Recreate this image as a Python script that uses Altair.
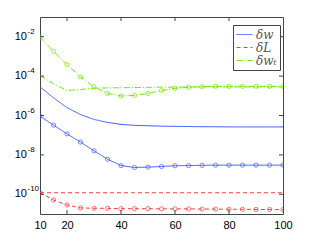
import altair as alt
import pandas as pd

x_vals = [10, 15, 20, 25, 30, 35, 40, 45, 50, 55, 60, 65, 70, 75, 80, 85, 90, 95, 100]

# legend series (no markers)
dw = [2.82e-5, 7.94e-6, 2.51e-6, 1.12e-6, 6.31e-7, 4.47e-7, 3.55e-7, 3.16e-7, 3.02e-7, 2.88e-7,
      2.82e-7, 2.75e-7, 2.69e-7, 2.69e-7, 2.63e-7, 2.63e-7, 2.63e-7, 2.63e-7, 2.63e-7]
dL = [1.2e-10] * 19
dwt = [1.10e-4, 4.07e-5, 1.86e-5, 2.09e-5, 2.45e-5, 2.51e-5, 2.57e-5, 2.63e-5, 2.69e-5, 2.75e-5,
       2.75e-5, 2.82e-5, 2.82e-5, 2.82e-5, 2.82e-5, 2.82e-5, 2.82e-5, 2.82e-5, 2.82e-5]

# marker series
dw_m = [9.33e-7, 3.24e-7, 1.17e-7, 4.47e-8, 1.62e-8, 6.03e-9, 2.88e-9, 2.29e-9, 2.40e-9, 2.57e-9,
        2.82e-9, 2.88e-9, 2.95e-9, 3.02e-9, 3.02e-9, 3.02e-9, 3.02e-9, 3.02e-9, 3.02e-9]
dL_m = [1.23e-10, 5.13e-11, 2.88e-11, 2.04e-11, 1.95e-11, 1.95e-11, 1.86e-11, 1.86e-11, 1.86e-11,
        1.82e-11, 1.82e-11, 1.82e-11, 1.78e-11, 1.78e-11, 1.74e-11, 1.74e-11, 1.70e-11, 1.70e-11, 1.66e-11]
dwt_m = [9.55e-3, 1.82e-3, 3.80e-4, 9.12e-5, 2.82e-5, 1.32e-5, 9.77e-6, 1.05e-5, 1.32e-5, 1.86e-5,
         2.40e-5, 2.69e-5, 2.88e-5, 3.02e-5, 3.02e-5, 3.02e-5, 3.02e-5, 3.02e-5, 3.02e-5]

names = ["δw", "δL", "δwₜ"]
colors = ["#3f5cff", "#ff3c3c", "#74ea00"]
dashes = [[1, 0], [4, 3], [6, 2, 1, 2]]

x_ticks = [10, 20, 40, 60, 80, 100]
y_ticks = [1e-10, 1e-8, 1e-6, 1e-4, 1e-2]
y_exps = ["-10", "-8", "-6", "-4", "-2"]

W, H = 243, 197

rows = []
for n, ser in zip(names, [dw, dL, dwt]):
    for xv, yv in zip(x_vals, ser):
        rows.append({"x": xv, "y": yv, "series": n})
df = pd.DataFrame(rows)

xs = alt.Scale(domain=[10, 100], nice=False, zero=False)
ys = alt.Scale(type="log", domain=[1e-11, 1e-1], nice=False)

leg = alt.Legend(title=None, orient="none", legendX=193, legendY=8,
                 strokeColor="#444444", fillColor="white", padding=3,
                 labelFont="DejaVu Serif", labelFontStyle="italic", labelFontSize=12,
                 labelColor="#555555", symbolType="stroke", symbolSize=256,
                 symbolStrokeWidth=1, labelOffset=3, rowPadding=0, clipHeight=13,
                 cornerRadius=0)

xaxis = alt.Axis(values=x_ticks, title=None, grid=False, ticks=False, domain=False,
                 labelFont="Liberation Sans", labelFontSize=11, labelColor="black",
                 labelPadding=5, format="d", labelFlush=False, labelOverlap=False)

main = alt.Chart(df).mark_line(strokeWidth=1, clip=True).encode(
    x=alt.X("x:Q", scale=xs, axis=xaxis),
    y=alt.Y("y:Q", scale=ys, axis=None),
    color=alt.Color("series:N", scale=alt.Scale(domain=names, range=colors), legend=leg),
    strokeDash=alt.StrokeDash("series:N", scale=alt.Scale(domain=names, range=dashes), legend=leg),
)

layers = [main]
for ser, c, d in zip([dw_m, dL_m, dwt_m], colors, dashes):
    mdf = pd.DataFrame({"x": x_vals, "y": ser})
    base = alt.Chart(mdf).encode(x=alt.X("x:Q", scale=xs), y=alt.Y("y:Q", scale=ys))
    layers.append(base.mark_line(strokeWidth=1, color=c, strokeDash=d, clip=True))
    layers.append(base.mark_point(shape="circle", filled=False, size=18, strokeWidth=1, color=c, clip=True))

# y tick labels as 10 with superscript exponent
ydf = pd.DataFrame({"v": y_ticks, "base": ["10"] * len(y_ticks), "e": y_exps})
layers.append(alt.Chart(ydf).mark_text(font="Liberation Sans", fontSize=11, align="right",
                                       baseline="middle", color="black").encode(
    y=alt.Y("v:Q", scale=ys), x=alt.value(-13), text="base:N"))
layers.append(alt.Chart(ydf).mark_text(font="Liberation Sans", fontSize=8, align="left",
                                       baseline="middle", dy=-5, color="black").encode(
    y=alt.Y("v:Q", scale=ys), x=alt.value(-12.5), text="e:N"))

# inward tick marks on all four sides
xdf = pd.DataFrame({"v": x_ticks[1:-1]})
tick_col = "#444444"
layers.append(alt.Chart(ydf).mark_rule(color=tick_col, strokeWidth=1).encode(
    y=alt.Y("v:Q", scale=ys), x=alt.value(0), x2=alt.value(4)))
layers.append(alt.Chart(ydf).mark_rule(color=tick_col, strokeWidth=1).encode(
    y=alt.Y("v:Q", scale=ys), x=alt.value(W), x2=alt.value(W - 4)))
layers.append(alt.Chart(xdf).mark_rule(color=tick_col, strokeWidth=1).encode(
    x=alt.X("v:Q", scale=xs), y=alt.value(0), y2=alt.value(4)))
layers.append(alt.Chart(xdf).mark_rule(color=tick_col, strokeWidth=1).encode(
    x=alt.X("v:Q", scale=xs), y=alt.value(H), y2=alt.value(H - 4)))

chart = alt.layer(*layers).properties(
    width=W, height=H,
    autosize=alt.AutoSizeParams(type="none"),
    padding={"left": 32, "top": 9, "right": 20, "bottom": 20},
    background="white",
).configure_view(stroke="#444444", strokeWidth=1)

chart.save("out.html", embed_options={"renderer": "svg", "actions": False})
